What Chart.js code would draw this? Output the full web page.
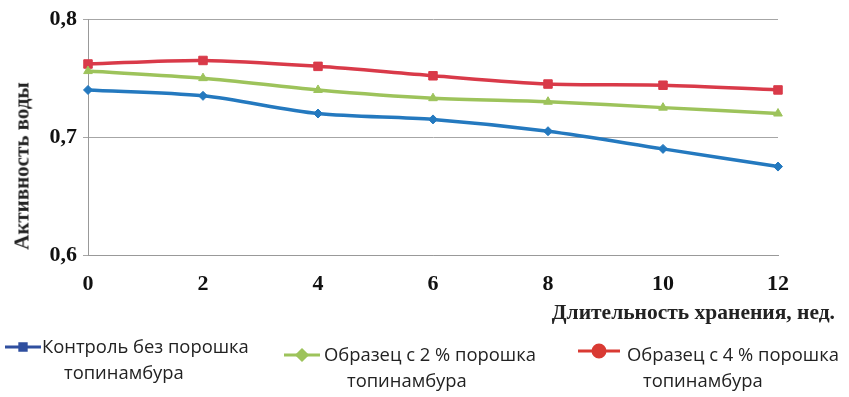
<!DOCTYPE html>
<html>
<head>
<meta charset="utf-8">
<script src="https://cdn.jsdelivr.net/npm/chart.js@4"></script>
<style>
  body { margin: 0; background: #fff; }
  #wrap { position: relative; width: 849px; height: 397px; }
  #xtitle { position: absolute; right: 14px; top: 300px; font: bold 21.5px "Liberation Serif", serif; color: #222; }
  #ytitle { position: absolute; left: 22px; top: 166px; transform: translate(-50%, -50%) rotate(-90deg);
            white-space: nowrap; font: bold 21px "Liberation Serif", serif; color: #222; }
  .leg { position: absolute; font: 18.4px "Open Sans", sans-serif; color: #222; line-height: 26px; }
</style>
</head>
<body>
<div id="wrap">
  <canvas id="chart" width="849" height="397"></canvas>
  <div id="ytitle">Активность воды</div>
  <div id="xtitle">Длительность хранения, нед.</div>
  <div class="leg" style="left:42px;top:333px;">Контроль без порошка<br><span style="margin-left:22px">топинамбура</span></div>
  <div class="leg" style="left:324px;top:341px;">Образец с 2 % порошка<br><span style="margin-left:23px">топинамбура</span></div>
  <div class="leg" style="left:627px;top:341px;">Образец с 4 % порошка<br><span style="margin-left:16px">топинамбура</span></div>
  <canvas id="legIcons" width="849" height="397" style="position:absolute;left:0;top:0;pointer-events:none"></canvas>
</div>
<script>
// Data
const weeks = ['0', '2', '4', '6', '8', '10', '12'];
const control = [0.740, 0.735, 0.720, 0.715, 0.705, 0.690, 0.675];
const sample2 = [0.756, 0.750, 0.740, 0.733, 0.730, 0.725, 0.720];
const sample4 = [0.762, 0.765, 0.760, 0.752, 0.745, 0.744, 0.740];
const yTicks = [0.6, 0.7, 0.8];

const serif = '"Liberation Serif", "Times New Roman", serif';

const chart = new Chart(document.getElementById('chart'), {
    type: 'line',
    data: {
        labels: weeks,
        datasets: [
            { label: 'Контроль без порошка топинамбура', data: control, borderColor: '#2479bf', backgroundColor: '#2479bf',
              pointStyle: 'rectRot', pointRadius: 4.5 },
            { label: 'Образец с 2 % порошка топинамбура', data: sample2, borderColor: '#9dc35b', backgroundColor: '#9dc35b',
              pointStyle: 'triangle', pointRadius: 5 },
            { label: 'Образец с 4 % порошка топинамбура', data: sample4, borderColor: '#d93a49', backgroundColor: '#d93a49',
              pointStyle: 'rect', pointRadius: 6 }
        ]
    },
    options: {
        responsive: false,
        animation: false,
        layout: { padding: { top: 14, right: 71, left: 0, bottom: 0 } },
        elements: { line: { borderWidth: 3.5, tension: 0.3 }, point: { borderWidth: 1 } },
        plugins: { legend: { display: false }, tooltip: { enabled: false } },
        scales: {
            x: {
                offset: false,
                grid: { display: false, drawTicks: true, tickLength: 5, color: '#999' },
                border: { color: '#999' },
                ticks: { color: '#111', padding: 11, font: { family: serif, size: 22, weight: 'bold' } },
                afterFit: s => { s.height = 397 - 255; }
            },
            y: {
                min: 0.6, max: 0.8,
                afterBuildTicks: s => { s.ticks = yTicks.map(v => ({ value: v })); },
                grid: { color: '#a6a6a6', tickLength: 5 },
                border: { color: '#999' },
                ticks: { color: '#111', padding: 6, font: { family: serif, size: 22, weight: 'bold' },
                         callback: v => v.toFixed(1).replace('.', ',') },
                afterFit: s => { s.width = 88; }
            }
        }
    }
});

// Legend icons (different markers from the chart, as in the original)
const ctx = document.getElementById('legIcons').getContext('2d');
function icon(x1, x2, y, color, style, r) {
    ctx.strokeStyle = color; ctx.lineWidth = 3;
    ctx.beginPath(); ctx.moveTo(x1, y); ctx.lineTo(x2, y); ctx.stroke();
    Chart.helpers.drawPoint(ctx, { pointStyle: style, radius: r, borderWidth: 1 }, (x1 + x2) / 2, y);
    ctx.fillStyle = color; ctx.fill();
}
icon(5, 41, 347, '#2f4f9f', 'rect', 4.5);
icon(284, 320, 355, '#9dc35b', 'rectRot', 5);
icon(578, 620, 351, '#d93a33', 'circle', 6);
</script>
</body>
</html>
